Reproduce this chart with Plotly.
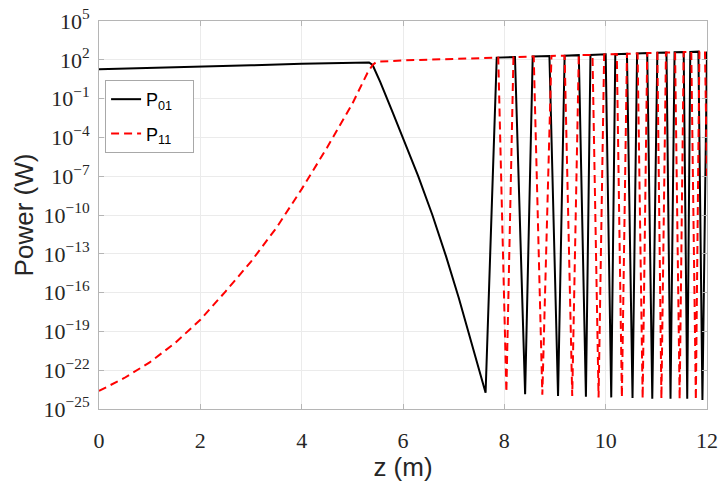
import plotly.graph_objects as go

# ---- data (z in m, power in W) ----
z_p01 = [0.00, 1.00, 2.00, 3.00, 4.00, 5.00, 5.25, 5.33, 5.40, 5.47, 5.55, 5.80, 6.07,
         6.30, 6.58, 6.85, 7.10, 7.35, 7.63, 7.85, 8.21, 8.41, 8.56, 8.89,
         9.06, 9.19, 9.47, 9.61, 9.70, 10.00, 10.11, 10.19, 10.42, 10.53, 10.62, 10.82,
         10.92, 11.02, 11.20, 11.28, 11.36, 11.54, 11.61, 11.67, 11.83, 11.91, 11.99, 12.00]
p01 = [18.6, 22.9, 28.2, 37.2, 50.1, 63.1, 67.6, 63.1, 39.8, 11.2, 2.0, 7.9e-3, 2.0e-5,
       1.0e-7, 1.0e-10, 6.3e-14, 4.0e-17, 1.6e-20, 1.8e-24, 148, 162,
       1.4e-24, 178, 195, 1.0e-24, 209, 229, 8.9e-25, 234, 263, 7.9e-25, 269, 295,
       7.1e-25, 309, 331, 6.3e-25, 347, 363, 6.3e-25, 380, 398, 6.3e-25, 407, 427,
       5.0e-25, 447, 447]

z_p11 = [0.00, 0.50, 1.00, 1.50, 2.00, 2.50, 3.00, 3.50, 4.00, 4.50, 5.00, 5.15, 5.30,
         5.40, 5.48, 6.00, 7.00, 7.88, 8.04, 8.18, 8.58, 8.75, 8.93, 9.19, 9.34, 9.47,
         9.74, 9.86, 9.97, 10.22, 10.32, 10.42, 10.63, 10.73, 10.82, 11.02, 11.10, 11.19,
         11.37, 11.46, 11.54, 11.69, 11.78, 11.85, 11.96, 12.00]
p11 = [2.5e-24, 2.5e-23, 4.0e-22, 1.26e-20, 7.9e-19, 1.26e-16, 2.5e-14, 1.0e-11, 1.0e-8,
       1.6e-5, 4.0e-2, 0.55, 10.0, 40.0, 70.8, 89.1, 117, 148, 2.0e-24, 162, 182, 1.26e-24,
       200, 209, 1.0e-24, 229, 240, 7.9e-25, 263, 275, 7.9e-25, 295, 309, 6.3e-25, 331,
       347, 6.3e-25, 363, 380, 5.6e-25, 398, 407, 5.0e-25, 427, 437, 1.0e-7]

y_tick_vals = [1e5, 1e2, 1e-1, 1e-4, 1e-7, 1e-10, 1e-13, 1e-16, 1e-19, 1e-22, 1e-25]
y_tick_text = ["10<sup>5</sup>", "10<sup>2</sup>", "10<sup>\u22121</sup>", "10<sup>\u22124</sup>",
               "10<sup>\u22127</sup>", "10<sup>\u221210</sup>", "10<sup>\u221213</sup>",
               "10<sup>\u221216</sup>", "10<sup>\u221219</sup>", "10<sup>\u221222</sup>",
               "10<sup>\u221225</sup>"]
x_tick_vals = [0, 2, 4, 6, 8, 10, 12]
x_tick_text = ["0", "2", "4", "6", "8", "10", "12"]
legend_names = ["P<sub>01</sub>\u00a0\u00a0\u00a0", "P<sub>11</sub>\u00a0\u00a0\u00a0"]

fig = go.Figure()
fig.add_trace(go.Scatter(x=z_p01, y=p01, mode="lines", name=legend_names[0],
                         line=dict(color="#000000", width=2), legendgroup="a"))
fig.add_trace(go.Scatter(x=z_p11, y=p11, mode="lines", name=legend_names[1],
                         line=dict(color="#ff0000", width=2, dash="8px,5px"), legendgroup="b"))

axis_common = dict(showline=True, linecolor="#b5b5b5", linewidth=1, mirror="ticks",
                   ticks="inside", ticklen=5, tickcolor="#b5b5b5",
                   showgrid=True, gridcolor="#ebebeb", gridwidth=1, zeroline=False,
                   tickfont=dict(family="Liberation Serif", size=22, color="#262626"))

fig.update_xaxes(range=[0, 12], tickvals=x_tick_vals, ticktext=x_tick_text,
                 ticklabelstandoff=12,
                 title=dict(text="z (m)", font=dict(family="Liberation Sans", size=26, color="#262626"),
                            standoff=2),
                 **axis_common)
fig.update_yaxes(type="log", range=[-25, 5], tickvals=y_tick_vals, ticktext=y_tick_text,
                 ticklabelstandoff=4,
                 title=dict(text="Power (W)", font=dict(family="Liberation Sans", size=26, color="#262626"),
                            standoff=2),
                 **axis_common)

fig.update_layout(
    width=724, height=482,
    margin=dict(l=99, r=17, t=21, b=73, autoexpand=False),
    plot_bgcolor="#ffffff", paper_bgcolor="#ffffff",
    showlegend=True,
    legend=dict(x=0.01, y=0.848, xanchor="left", yanchor="top",
                bgcolor="#ffffff", bordercolor="#a8a8a8", borderwidth=1,
                font=dict(family="Liberation Sans", size=18, color="#000000"),
                traceorder="grouped", tracegroupgap=8, itemwidth=30),
)

fig.write_html("out.html")
